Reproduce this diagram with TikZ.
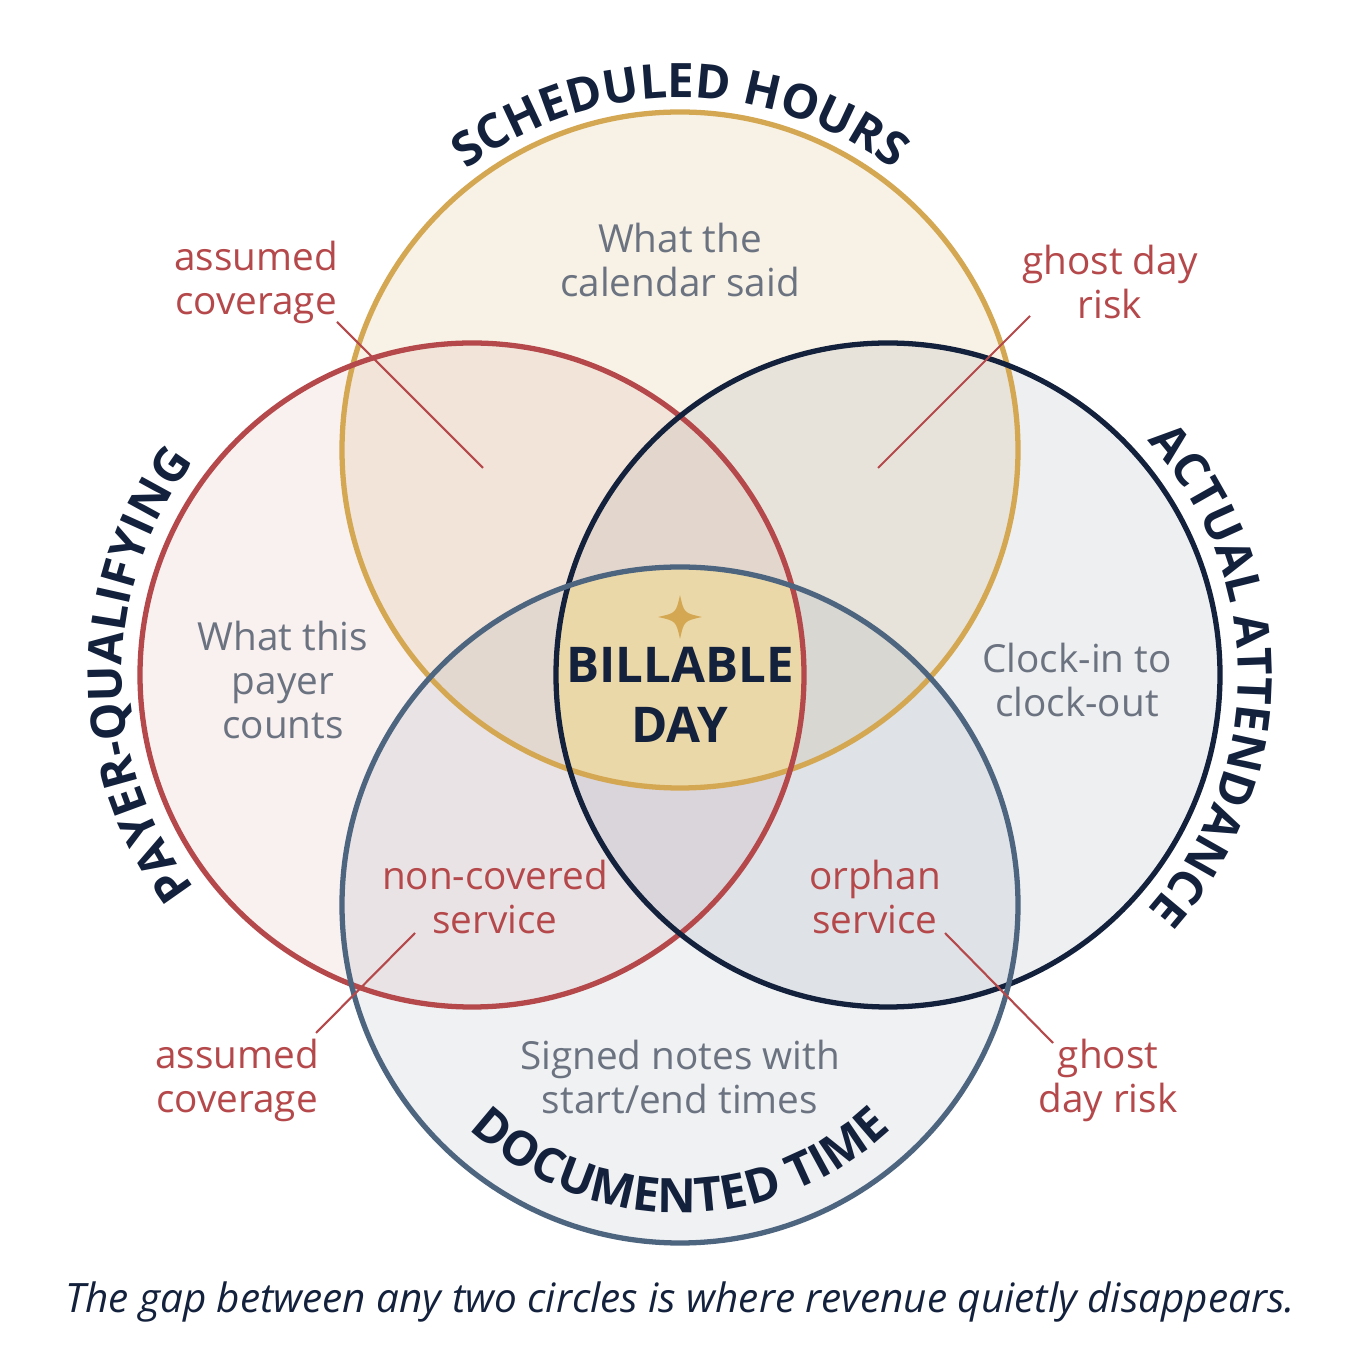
\documentclass[tikz,border=0pt]{standalone}
\usepackage{fontspec}
\setmainfont{Open Sans}
\usetikzlibrary{decorations.text}
\definecolor{cgold}{HTML}{D4A752}
\definecolor{cred}{HTML}{B5484A}
\definecolor{cnavy}{HTML}{13213C}
\definecolor{cslate}{HTML}{4E6580}
\definecolor{cgray}{HTML}{6B7280}
\definecolor{ccore}{HTML}{EBD8A8}
\begin{document}
\begin{tikzpicture}[x=0.01cm,y=0.01cm,
  ring/.style={line width=1.5pt},
  body/.style={text=cgray,align=center,font=\fontsize{11}{12.5}\selectfont},
  warn/.style={text=cred,align=center,font=\fontsize{11}{12.5}\selectfont},
  lead/.style={cred,line width=0.6pt},
  ttl/.style={decorate,decoration={text along path,text align=center,
     text={|\fontsize{13.5}{16}\selectfont\bfseries\color{cnavy}|#1}}}]
\useasboundingbox (0,0) rectangle (1360,1360);
\fill[white] (0,0) rectangle (1360,1360);
\coordinate (S) at (680,910);
\coordinate (P) at (472,685);
\coordinate (A) at (888,685);
\coordinate (D) at (680,455);
\fill[cgold,opacity=0.14] (S) circle[radius=338];
\fill[cred,opacity=0.08] (P) circle[radius=332];
\fill[cnavy,opacity=0.07] (A) circle[radius=332];
\fill[cslate,opacity=0.09] (D) circle[radius=338];
\begin{scope}
\clip (S) circle[radius=338];
\clip (P) circle[radius=332];
\clip (A) circle[radius=332];
\fill[ccore] (D) circle[radius=338];
\end{scope}
\draw[ring,cgold] (S) circle[radius=338];
\draw[ring,cred] (P) circle[radius=332];
\draw[ring,cnavy] (A) circle[radius=332];
\draw[ring,cslate] (D) circle[radius=338];
% curved titles
\path[ttl={SCHEDULED HOURS}] (S) ++(150:352) arc[start angle=150,end angle=30,radius=352];
\path[ttl={PAYER-QUALIFYING}] (P) ++(235:350) arc[start angle=235,end angle=125,radius=350];
\path[ttl={ACTUAL ATTENDANCE}] (A) ++(55:350) arc[start angle=55,end angle=-55,radius=350];
\path[ttl={DOCUMENTED TIME}] (D) ++(220:308) arc[start angle=220,end angle=320,radius=308];
% texts
\node[body] (t1) at (680,1100) {What the\\calendar said};
\node[body] (t2) at (283,680) {What this\\payer\\counts};
\node[body] (t3) at (1077,680) {Clock-in to\\clock-out};
\node[body] (t4) at (680,283) {Signed notes with\\start/end times};
\node[warn] (w1) at (256,1078) {assumed\\coverage};
\node[warn] (w2) at (1110,1078) {ghost day\\risk};
\node[warn] (w3) at (495,463) {non-covered\\service};
\node[warn] (w4) at (875,463) {orphan\\service};
\node[warn] (w5) at (237,280) {assumed\\coverage};
\node[warn] (w6) at (1108,280) {ghost\\day risk};
\coordinate (e1) at (483,892); \coordinate (s1) at (337,1038);
\coordinate (e2) at (878,892); \coordinate (s2) at (1030,1044);
\coordinate (s3) at (415,427); \coordinate (e3) at (316,327);
\coordinate (s4) at (945,427); \coordinate (e4) at (1053,317);
\draw[lead] (s1) -- (e1);
\draw[lead] (s2) -- (e2);
\draw[lead] (s3) -- (e3);
\draw[lead] (s4) -- (e4);
\node[text=cnavy,align=center,font=\fontsize{14}{17}\selectfont\bfseries] (core) at (680,665) {BILLABLE\\DAY};
\fill[cgold] (680,765) .. controls (684,747) .. (702,743) .. controls (684,739) .. (680,721) .. controls (676,739) .. (658,743) .. controls (676,747) .. (680,765) -- cycle;
\node[text=cnavy,font=\fontsize{11.5}{14}\selectfont\itshape] (cap) at (680,58) {The gap between any two circles is where revenue quietly disappears.};
\end{tikzpicture}
\end{document}
